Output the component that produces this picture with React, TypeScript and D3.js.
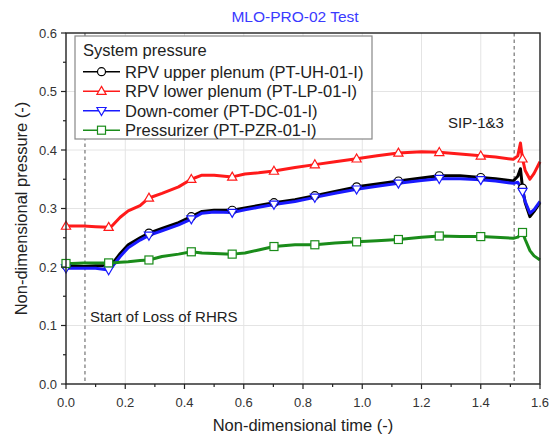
import React from "react";
import * as d3 from "d3";

const times = [0, 0.02, 0.06, 0.10, 0.144, 0.155, 0.183, 0.21, 0.25, 0.28, 0.324, 0.38, 0.423, 0.459, 0.50, 0.561, 0.604, 0.65, 0.702, 0.773, 0.84, 0.908, 0.981, 1.05, 1.122, 1.20, 1.26, 1.33, 1.40, 1.45, 1.51, 1.525, 1.534, 1.541, 1.55, 1.566, 1.58, 1.6];
const upperPlenum = [0.202, 0.202, 0.201, 0.202, 0.202, 0.205, 0.223, 0.238, 0.250, 0.258, 0.266, 0.276, 0.286, 0.295, 0.297, 0.297, 0.301, 0.305, 0.310, 0.315, 0.322, 0.329, 0.337, 0.342, 0.347, 0.352, 0.356, 0.356, 0.353, 0.351, 0.347, 0.355, 0.368, 0.335, 0.310, 0.286, 0.295, 0.310];
const lowerPlenum = [0.270, 0.270, 0.270, 0.269, 0.268, 0.270, 0.285, 0.296, 0.305, 0.318, 0.326, 0.337, 0.350, 0.357, 0.357, 0.354, 0.359, 0.361, 0.364, 0.370, 0.375, 0.380, 0.385, 0.390, 0.395, 0.397, 0.396, 0.393, 0.390, 0.388, 0.384, 0.390, 0.412, 0.385, 0.365, 0.350, 0.360, 0.380];
const downComer = [0.198, 0.198, 0.198, 0.198, 0.195, 0.200, 0.218, 0.233, 0.246, 0.254, 0.262, 0.272, 0.282, 0.292, 0.294, 0.293, 0.298, 0.302, 0.307, 0.312, 0.319, 0.326, 0.333, 0.338, 0.343, 0.348, 0.351, 0.351, 0.349, 0.347, 0.343, 0.345, 0.337, 0.329, 0.312, 0.292, 0.298, 0.312];
const pressurizer = [0.206, 0.206, 0.207, 0.207, 0.207, 0.207, 0.208, 0.209, 0.211, 0.212, 0.218, 0.222, 0.226, 0.224, 0.223, 0.222, 0.224, 0.229, 0.235, 0.238, 0.238, 0.241, 0.243, 0.245, 0.247, 0.251, 0.253, 0.252, 0.252, 0.251, 0.249, 0.251, 0.256, 0.259, 0.247, 0.228, 0.219, 0.212];
const markerTimes = [0, 0.144, 0.28, 0.423, 0.561, 0.702, 0.84, 0.981, 1.122, 1.26, 1.40, 1.541];

const seriesNames = ["RPV upper plenum (PT-UH-01-I)", "RPV lower plenum (PT-LP-01-I)", "Down-comer (PT-DC-01-I)", "Pressurizer (PT-PZR-01-I)"];
const seriesColors = ["#000000", "#ff1a1a", "#1a1aff", "#1a8c1a"];
const seriesMarkers = ["circle", "triangle", "triangleDown", "square"];
const seriesValues = [upperPlenum, lowerPlenum, downComer, pressurizer];

const xTicks = [0, 0.2, 0.4, 0.6, 0.8, 1.0, 1.2, 1.4, 1.6];
const yTicks = [0, 0.1, 0.2, 0.3, 0.4, 0.5, 0.6];
const eventTimes = [0.064, 1.513];

const W = 557, H = 437;
const L = 66, R = 540, T = 33, B = 384;
const FONT = "'Liberation Sans', Arial, sans-serif";

function Marker({ kind, x, y, color }: { kind: string; x: number; y: number; color: string }) {
  const sw = 1.2;
  if (kind === "circle") return <circle cx={x} cy={y} r={4} fill="white" stroke={color} strokeWidth={sw} />;
  if (kind === "square") return <rect x={x - 4} y={y - 4} width={8} height={8} fill="white" stroke={color} strokeWidth={sw} />;
  if (kind === "triangle") return <path d={`M${x},${y - 4.8}L${x + 4.6},${y + 3.2}L${x - 4.6},${y + 3.2}Z`} fill="white" stroke={color} strokeWidth={sw} />;
  return <path d={`M${x},${y + 4.8}L${x + 4.6},${y - 3.2}L${x - 4.6},${y - 3.2}Z`} fill="white" stroke={color} strokeWidth={sw} />;
}

export default function App() {
  const x = d3.scaleLinear().domain([0, 1.6]).range([L, R]);
  const y = d3.scaleLinear().domain([0, 0.6]).range([B, T]);
  const line = d3.line<number>().x((_, i) => x(times[i])).y((d) => y(d));
  const xMinor = d3.range(0, 1.61, 0.1);
  const yMinor = d3.range(0, 0.601, 0.05);
  const order = [0, 1, 2, 3];
  return (
    <div style={{ position: "absolute", left: 0, top: 0 }}>
      <svg width={W} height={H} style={{ display: "block", fontFamily: FONT }}>
        <rect width={W} height={H} fill="white" />
        {xTicks.slice(1, -1).map((t) => (
          <line key={"gx" + t} x1={x(t)} x2={x(t)} y1={T} y2={B} stroke="#e4e4e4" strokeWidth={1} />
        ))}
        {yTicks.slice(1, -1).map((t) => (
          <line key={"gy" + t} x1={L} x2={R} y1={y(t)} y2={y(t)} stroke="#e4e4e4" strokeWidth={1} />
        ))}
        {eventTimes.map((t) => (
          <line key={"ev" + t} x1={x(t)} x2={x(t)} y1={T} y2={B} stroke="#909090" strokeWidth={1.5} strokeDasharray="3.5,3" />
        ))}
        {order.map((s) => (
          <path key={"l" + s} d={line(seriesValues[s]) || ""} fill="none" stroke={seriesColors[s]} strokeWidth={3} strokeLinejoin="round" />
        ))}
        {order.map((s) =>
          markerTimes.map((mt) => {
            const i = times.indexOf(mt);
            return <Marker key={"m" + s + "_" + mt} kind={seriesMarkers[s]} x={x(mt)} y={y(seriesValues[s][i])} color={seriesColors[s]} />;
          })
        )}
        <rect x={L} y={T} width={R - L} height={B - T} fill="none" stroke="#222" strokeWidth={1.4} />
        {xMinor.map((t) => (
          <line key={"xt" + t} x1={x(t)} x2={x(t)} y1={B} y2={B + (Math.round(t * 10) % 2 === 0 ? 5 : 3)} stroke="#222" strokeWidth={1.2} />
        ))}
        {yMinor.map((t) => (
          <line key={"yt" + t} x1={L} x2={L - (Math.round(t * 20) % 2 === 0 ? 5 : 3)} y1={y(t)} y2={y(t)} stroke="#222" strokeWidth={1.2} />
        ))}
        {xTicks.map((t) => (
          <text key={"xl" + t} x={x(t)} y={B + 23} textAnchor="middle" fontSize={13} fill="#333">{t.toFixed(1)}</text>
        ))}
        {yTicks.map((t) => (
          <text key={"yl" + t} x={L - 9} y={y(t) + 4.5} textAnchor="end" fontSize={13} fill="#333">{t.toFixed(1)}</text>
        ))}
        <text x={303} y={431} textAnchor="middle" fontSize={16.5} fill="#222">Non-dimensional time (-)</text>
        <text transform={`translate(27,${(T + B) / 2}) rotate(-90)`} textAnchor="middle" fontSize={16.5} fill="#222">Non-dimensional pressure (-)</text>
        <text x={295} y={22} textAnchor="middle" fontSize={15.5} fill="#3a3aff">MLO-PRO-02 Test</text>
        <text x={90} y={322} fontSize={15} fill="#222">Start of Loss of RHRS</text>
        <text x={448} y={128} fontSize={15} fill="#222">SIP-1&amp;3</text>
        <g>
          <rect x={75} y={36} width={297} height={103} fill="white" stroke="#888" strokeWidth={1.2} />
          <text x={83} y={56} fontSize={16.5} fill="#222">System pressure</text>
          {order.map((s) => {
            const cy = 71.7 + s * 19.5;
            return (
              <g key={"lg" + s}>
                <line x1={83} x2={120} y1={cy} y2={cy} stroke={seriesColors[s]} strokeWidth={1.5} />
                <Marker kind={seriesMarkers[s]} x={101.5} y={cy} color={seriesColors[s]} />
                <text x={125} y={cy + 6} fontSize={16.5} fill="#222">{seriesNames[s]}</text>
              </g>
            );
          })}
        </g>
      </svg>
    </div>
  );
}
